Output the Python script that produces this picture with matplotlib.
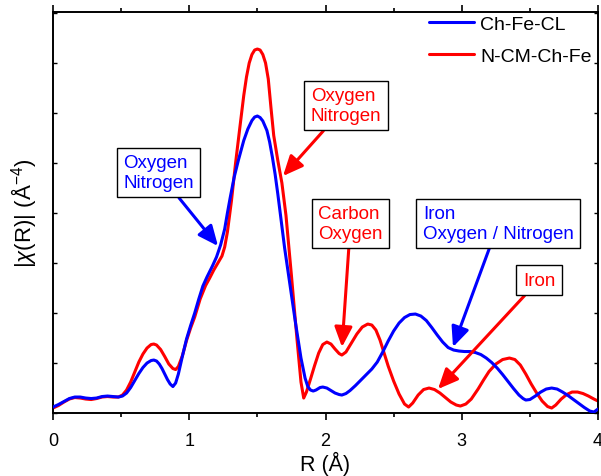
import matplotlib
matplotlib.use("Agg")
import matplotlib.pyplot as plt
from matplotlib.ticker import MultipleLocator

plt.rcParams['font.family'] = ['Liberation Sans', 'DejaVu Sans']
plt.rcParams['mathtext.fontset'] = 'custom'
plt.rcParams['mathtext.rm'] = 'Liberation Sans'
plt.rcParams['mathtext.it'] = 'Liberation Sans:italic'

# Ch-Fe-CL (blue)
r_blue = [0.00, 0.04, 0.08, 0.12, 0.16, 0.20, 0.24, 0.28, 0.32, 0.36, 0.40, 0.44, 0.48, 0.51,
          0.54, 0.57, 0.60, 0.63, 0.66, 0.69, 0.72, 0.74, 0.76, 0.78, 0.80, 0.82, 0.84, 0.86,
          0.88, 0.90, 0.92, 0.95, 0.98, 1.01, 1.04, 1.07, 1.10, 1.13, 1.17, 1.20, 1.23, 1.26,
          1.28, 1.30, 1.33, 1.36, 1.40, 1.43, 1.46, 1.48, 1.50, 1.52, 1.54, 1.57, 1.59, 1.61,
          1.63, 1.65, 1.67, 1.70, 1.74, 1.78, 1.82, 1.85, 1.87, 1.89, 1.91, 1.93, 1.96, 1.98,
          2.01, 2.04, 2.07, 2.10, 2.12, 2.15, 2.18, 2.22, 2.26, 2.30, 2.34, 2.38, 2.42, 2.46,
          2.50, 2.54, 2.58, 2.62, 2.66, 2.70, 2.74, 2.78, 2.82, 2.86, 2.90, 2.94, 2.98, 3.02,
          3.06, 3.10, 3.14, 3.18, 3.22, 3.26, 3.30, 3.34, 3.38, 3.42, 3.45, 3.47, 3.50, 3.54,
          3.58, 3.62, 3.66, 3.70, 3.74, 3.78, 3.82, 3.86, 3.90, 3.94, 3.97, 4.00]
v_blue = [0.12, 0.17, 0.23, 0.29, 0.32, 0.32, 0.30, 0.29, 0.30, 0.33, 0.34, 0.33, 0.32, 0.34,
          0.40, 0.51, 0.65, 0.79, 0.91, 1.00, 1.05, 1.06, 1.04, 0.98, 0.89, 0.78, 0.67, 0.58,
          0.53, 0.60, 0.78, 1.14, 1.48, 1.75, 2.00, 2.28, 2.54, 2.72, 2.94, 3.12, 3.36, 3.68,
          4.00, 4.30, 4.72, 5.05, 5.45, 5.68, 5.85, 5.92, 5.94, 5.91, 5.84, 5.65, 5.42, 5.12,
          4.78, 4.38, 3.95, 3.30, 2.55, 1.80, 1.10, 0.70, 0.53, 0.46, 0.44, 0.46, 0.51, 0.52,
          0.50, 0.45, 0.40, 0.37, 0.36, 0.39, 0.45, 0.55, 0.66, 0.77, 0.88, 1.02, 1.22, 1.44,
          1.64, 1.80, 1.91, 1.97, 1.98, 1.94, 1.85, 1.71, 1.56, 1.42, 1.31, 1.26, 1.24, 1.23,
          1.23, 1.21, 1.17, 1.10, 1.01, 0.90, 0.77, 0.63, 0.49, 0.36, 0.29, 0.26, 0.27, 0.34,
          0.42, 0.48, 0.50, 0.48, 0.42, 0.35, 0.27, 0.19, 0.11, 0.04, 0.02, 0.08]

# N-CM-Ch-Fe (red)
r_red = [0.00, 0.04, 0.08, 0.12, 0.16, 0.20, 0.24, 0.28, 0.32, 0.36, 0.40, 0.44, 0.48, 0.51,
         0.54, 0.57, 0.60, 0.63, 0.66, 0.69, 0.72, 0.74, 0.76, 0.79, 0.82, 0.85, 0.88, 0.90,
         0.92, 0.95, 0.98, 1.01, 1.04, 1.08, 1.12, 1.15, 1.18, 1.21, 1.24, 1.26, 1.28, 1.31,
         1.34, 1.37, 1.40, 1.42, 1.44, 1.46, 1.48, 1.50, 1.52, 1.54, 1.56, 1.58, 1.60, 1.62,
         1.65, 1.68, 1.71, 1.75, 1.79, 1.82, 1.84, 1.86, 1.89, 1.92, 1.95, 1.98, 2.01, 2.04,
         2.07, 2.10, 2.12, 2.15, 2.19, 2.23, 2.27, 2.31, 2.34, 2.37, 2.40, 2.43, 2.46, 2.50,
         2.54, 2.58, 2.61, 2.64, 2.68, 2.72, 2.76, 2.80, 2.84, 2.88, 2.92, 2.96, 2.99, 3.03,
         3.07, 3.12, 3.16, 3.20, 3.25, 3.30, 3.35, 3.39, 3.43, 3.47, 3.51, 3.55, 3.59, 3.63,
         3.66, 3.69, 3.73, 3.77, 3.81, 3.85, 3.89, 3.93, 3.97, 4.00]
v_red = [0.10, 0.15, 0.22, 0.28, 0.31, 0.30, 0.28, 0.27, 0.29, 0.32, 0.33, 0.32, 0.32, 0.36,
         0.46, 0.62, 0.82, 1.02, 1.18, 1.30, 1.37, 1.38, 1.36, 1.27, 1.13, 0.98, 0.89, 0.87,
         0.93, 1.15, 1.45, 1.70, 1.92, 2.28, 2.55, 2.70, 2.86, 3.00, 3.14, 3.32, 3.62, 4.25,
         5.00, 5.68, 6.35, 6.72, 7.00, 7.17, 7.26, 7.28, 7.26, 7.17, 7.00, 6.68, 6.10, 5.55,
         5.05, 4.60, 3.95, 2.75, 1.50, 0.62, 0.30, 0.42, 0.68, 0.95, 1.20, 1.37, 1.42, 1.38,
         1.28, 1.19, 1.16, 1.22, 1.40, 1.58, 1.72, 1.78, 1.76, 1.66, 1.46, 1.20, 0.94, 0.64,
         0.38, 0.18, 0.12, 0.20, 0.36, 0.47, 0.50, 0.47, 0.40, 0.31, 0.22, 0.16, 0.14, 0.18,
         0.28, 0.48, 0.66, 0.83, 0.98, 1.07, 1.10, 1.07, 0.96, 0.78, 0.58, 0.40, 0.24, 0.13,
         0.10, 0.16, 0.28, 0.37, 0.42, 0.42, 0.39, 0.34, 0.28, 0.24]

labels = ["Ch-Fe-CL", "N-CM-Ch-Fe"]
blue = "#0000FF"
red = "#FF0000"

fig = plt.figure(figsize=(6.01, 4.77), dpi=100)
ax = fig.add_axes([0.0882, 0.132, 0.9068, 0.8407])

ax.plot(r_blue, v_blue, color=blue, lw=2.2, label=labels[0], zorder=3,
        solid_joinstyle='round', solid_capstyle='round')
ax.plot(r_red, v_red, color=red, lw=2.2, label=labels[1], zorder=2,
        solid_joinstyle='round', solid_capstyle='round')

ax.set_xlim(0, 4)
ax.set_ylim(0, 8.02)
ax.xaxis.set_major_locator(MultipleLocator(1))
ax.xaxis.set_minor_locator(MultipleLocator(0.5))
ax.yaxis.set_major_locator(MultipleLocator(1))
ax.tick_params(axis='x', which='major', direction='out', length=5, width=1.2,
               labelsize=13, top=True, pad=9)
ax.tick_params(axis='x', which='minor', direction='out', length=3, width=1.2, top=True)
ax.tick_params(axis='y', which='major', direction='in', length=3, width=1.0,
               right=True, labelleft=False)
for s in ax.spines.values():
    s.set_linewidth(1.4)

ax.set_xlabel("R (Å)", fontsize=15.5)
ax.xaxis.set_label_coords(0.5, -0.124)
ax.xaxis.label.set_va('center')
ax.set_ylabel(r"|$\chi$(R)| (Å$^{-4}$)", fontsize=16, labelpad=10)

# legend
h, l = ax.get_legend_handles_labels()
ax.legend(h, l, loc='upper right', frameon=False, fontsize=14,
          handlelength=2.3, handletextpad=0.3, labelspacing=0.72,
          bbox_to_anchor=(1.02, 1.035))

def px(xp, yp):
    return ((xp - 53) / 136.25, (414 - yp) / 50)

def ann(text, xy, xytext, color):
    ax.annotate(text, xy=px(*xy), xytext=px(*xytext), ha='center', va='center',
                multialignment='left', color=color, fontsize=13.5, linespacing=1.2,
                bbox=dict(boxstyle='square,pad=0.35', fc='white', ec='black', lw=1.0),
                arrowprops=dict(arrowstyle='-|>,head_length=0.9,head_width=0.4',
                                color=color, lw=2.2, shrinkA=0, shrinkB=0),
                zorder=5)

ann("Oxygen\nNitrogen", (218, 247), (158.5, 173.5), blue)
ann("Oxygen\nNitrogen", (283, 177), (346, 106.5), red)
ann("Carbon\nOxygen", (342, 348), (350.5, 224.5), red)
ann("Iron\nOxygen / Nitrogen", (453, 348), (498.5, 224.5), blue)
ann("Iron", (438, 390), (539, 281), red)

fig.savefig("out.png", dpi=100)
